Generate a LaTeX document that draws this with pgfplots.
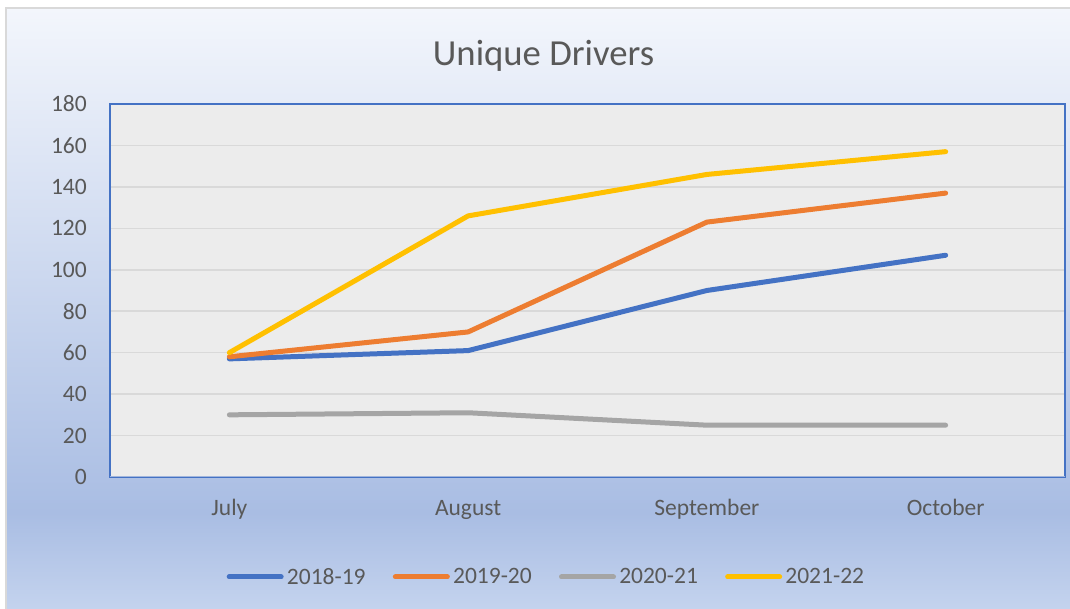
\documentclass[border=0pt]{standalone}
\usepackage{fontspec}
\setmainfont{Carlito}
\usepackage{pgfplots}
\pgfplotsset{compat=1.18}

\definecolor{s1}{HTML}{4472C4}
\definecolor{s2}{HTML}{ED7D31}
\definecolor{s3}{HTML}{A5A5A5}
\definecolor{s4}{HTML}{FFC000}
\definecolor{txt}{HTML}{595959}
\definecolor{plotbg}{HTML}{ECECEC}
\definecolor{gridc}{HTML}{D9D9D9}
\definecolor{frame}{HTML}{D9D9D9}
\definecolor{bgtop}{HTML}{F3F6FC}
\definecolor{bgdark}{HTML}{A9BDE3}
\definecolor{bgbot}{HTML}{C4D3EE}
\definecolor{baseax}{HTML}{A2B6DC}

% path box maps to 25bp..75bp of the shading
\pgfdeclareverticalshading{chartbg}{100bp}{color(0bp)=(bgbot); color(25bp)=(bgbot); color(33bp)=(bgdark); color(75bp)=(bgtop); color(100bp)=(bgtop)}

\newcommand{\tickfont}{\fontsize{23.5}{28}\selectfont}

\begin{document}
\begin{tikzpicture}
\useasboundingbox (0,0) rectangle (1070pt,609pt);
\fill[white] (0,0) rectangle (1070pt,609pt);
\shade[shading=chartbg] (6pt,0pt) rectangle (1070pt,601pt);
\draw[frame, line width=1.5pt] (6pt,0pt) -- (6pt,601pt) -- (1070pt,601pt);

\node[anchor=base, font=\fontsize{36.7}{44}\selectfont, text=txt] at (543.5pt,543pt) {Unique Drivers};

\begin{axis}[
    at={(110pt,132pt)}, anchor=south west,
    scale only axis, width=955pt, height=373pt,
    xmin=-0.5, xmax=3.5, ymin=0, ymax=180,
    xtick={0,1,2,3},
    xticklabels={July,August,September,October},
    ytick={0,20,...,180},
    major tick length=0pt,
    ymajorgrids,
    grid style={gridc, line width=1.5pt},
    axis background/.style={fill=plotbg},
    axis line style={draw=s1, line width=2.5pt},
    tick label style={font=\tickfont, text=txt},
    /pgf/number format/assume math mode=true,
    yticklabel style={anchor=east, inner sep=0pt, xshift=-23pt},
    xticklabel style={anchor=base, inner sep=0pt, yshift=-39pt},
    every axis plot/.append style={line width=5pt, line join=round, line cap=round},
    legend columns=4,
    legend style={
        at={(axis description cs:0.4576,-0.268)}, anchor=center,
        draw=none, fill=none,
        font=\tickfont,
        nodes={text=txt, inner sep=3.25pt},
        /tikz/every even column/.append style={column sep=24pt},
    },
    legend image code/.code={\draw[#1, line cap=round] (0pt,0pt) -- (52pt,0pt);},
]
\addplot[s1] coordinates {(0,57) (1,61) (2,90) (3,107)};
\addplot[s2] coordinates {(0,58) (1,70) (2,123) (3,137)};
\addplot[s3] coordinates {(0,30) (1,31) (2,25) (3,25)};
\addplot[s4] coordinates {(0,60) (1,126) (2,146) (3,157)};
\legend{2018-19,2019-20,2020-21,2021-22}
\draw[baseax, line width=1.5pt] (rel axis cs:0,0) -- (rel axis cs:1,0);
\end{axis}
\end{tikzpicture}
\end{document}
